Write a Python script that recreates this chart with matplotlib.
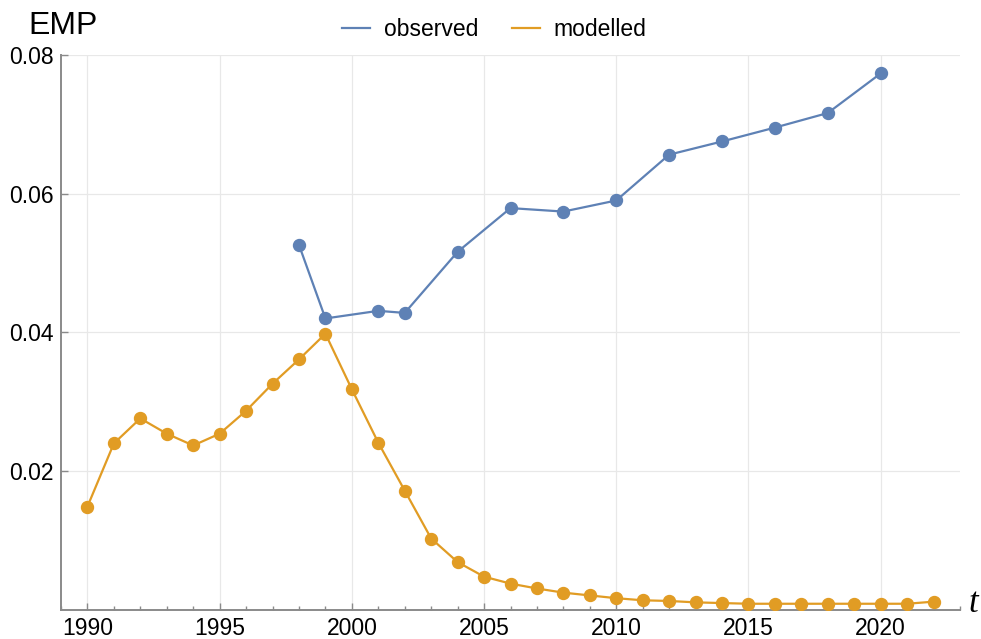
import numpy as np
import matplotlib
matplotlib.use("Agg")
import matplotlib.pyplot as plt
from matplotlib.ticker import MultipleLocator

plt.rcParams['font.family'] = ['Liberation Sans', 'DejaVu Sans']

obs_years = [1998, 1999, 2001, 2002, 2004, 2006, 2008, 2010, 2012, 2014, 2016, 2018, 2020]
obs_vals = [0.0526, 0.0420, 0.0431, 0.0428, 0.0516, 0.0579, 0.0574, 0.0590,
            0.0656, 0.0675, 0.0695, 0.0716, 0.0773]

mod_years = list(range(1990, 2023))
mod_vals = [0.0149, 0.0240, 0.0276, 0.0254, 0.0237, 0.0254, 0.0287, 0.0326, 0.0361, 0.0398,
            0.0318, 0.0241, 0.0172, 0.0103, 0.0069, 0.0048, 0.0038, 0.0031, 0.0025, 0.0021,
            0.0017, 0.0014, 0.0013, 0.0011, 0.0010, 0.0009, 0.0009, 0.0009, 0.0009, 0.0009,
            0.0009, 0.0009, 0.0012]

blue = '#5e81b5'
orange = '#e19c24'
axcol = '#8a8a8a'
gridcol = '#e8e8e8'

fig = plt.figure(figsize=(9.81, 6.39), dpi=100)
ax = fig.add_axes([61/981, 1 - 610/639, (960 - 61)/981, (610 - 54.7)/639])

ax.plot(obs_years, obs_vals, '-o', color=blue, lw=1.6, ms=8.6, label='observed', zorder=3)
ax.plot(mod_years, mod_vals, '-o', color=orange, lw=1.6, ms=8.6, label='modelled', zorder=3)

ax.set_xlim(1989, 2023)
ax.set_ylim(0, 0.08)
ax.xaxis.set_major_locator(MultipleLocator(5))
ax.xaxis.set_minor_locator(MultipleLocator(1))
ax.set_yticks([0.02, 0.04, 0.06, 0.08])
ax.set_yticklabels(['0.02', '0.04', '0.06', '0.08'])

ax.grid(True, which='major', color=gridcol, lw=0.9, zorder=0)
for s in ['top', 'right']:
    ax.spines[s].set_visible(False)
for s in ['left', 'bottom']:
    ax.spines[s].set_color(axcol)
    ax.spines[s].set_linewidth(1.4)

ax.tick_params(which='major', direction='in', length=5, width=1.0, color=axcol,
               labelsize=16.5, pad=5)
ax.tick_params(which='minor', direction='in', length=3, width=1.0, color=axcol)

fig.text(28/981, 1 - 26/639, 'EMP', fontsize=23, va='center', ha='left')
fig.text(968/981, 1 - 603/639, 't', fontsize=25, va='center', ha='left',
         family='Liberation Serif', style='italic')

fig.legend(loc='center', bbox_to_anchor=(0.504, 1 - 30/639), ncol=2, frameon=False,
           fontsize=16.5, handlelength=1.2, columnspacing=1.5, handletextpad=0.6)
leg = fig.legends[0]
for h in leg.legend_handles:
    h.set_marker('')

fig.savefig('out.png', dpi=100)
